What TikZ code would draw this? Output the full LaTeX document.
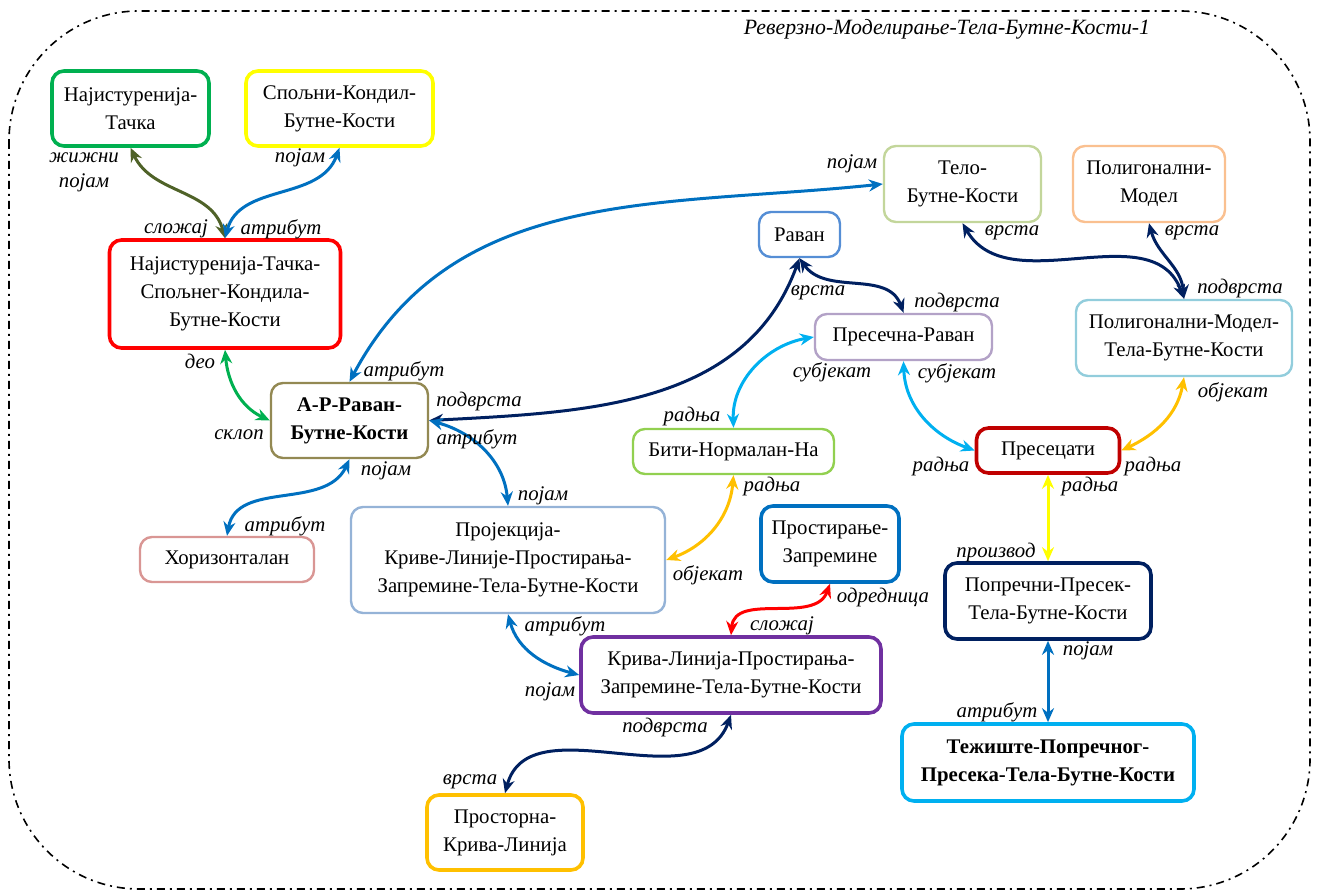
\documentclass[tikz,border=0pt]{standalone}
\usepackage{fontspec}
\setmainfont{Liberation Serif}
\usetikzlibrary{arrows.meta}
\definecolor{cgreen}{HTML}{00B050}
\definecolor{cyellow}{HTML}{FFFF00}
\definecolor{cred}{HTML}{FF0000}
\definecolor{cdarkred}{HTML}{C00000}
\definecolor{colive}{HTML}{938953}
\definecolor{cmoss}{HTML}{4F6228}
\definecolor{crose}{HTML}{D99694}
\definecolor{cpale}{HTML}{95B3D7}
\definecolor{cblue}{HTML}{0070C0}
\definecolor{cnavy}{HTML}{002060}
\definecolor{ccyan}{HTML}{00B0F0}
\definecolor{cpurple}{HTML}{7030A0}
\definecolor{corange}{HTML}{FFC000}
\definecolor{clime}{HTML}{92D050}
\definecolor{clilac}{HTML}{B3A2C7}
\definecolor{caqua}{HTML}{92CDDC}
\definecolor{csky}{HTML}{558ED5}
\definecolor{csage}{HTML}{C3D69B}
\definecolor{cpeach}{HTML}{FAC090}
\begin{document}
\begin{tikzpicture}[x=0.5pt,y=0.5pt,
  box/.style={draw, rounded corners=6pt, align=center, inner sep=0pt, line width=1.2pt,
    font=\fontsize{10.4}{14}\selectfont},
  heavy/.style={box, line width=1.8pt},
  rel/.style={<->, >={Stealth[length=7pt,width=6pt]}, line width=1.5pt},
  lbl/.style={font=\itshape\fontsize{10.4}{12.5}\selectfont, align=center, inner sep=0pt}]
\useasboundingbox (0,0) rectangle (1317,-892);
\draw[line width=0.8pt, dash pattern=on 4pt off 2.5pt on 1pt off 2.5pt, rounded corners=65pt]
  (9,-11) rectangle (1310,-889);
\node[lbl, font=\itshape\fontsize{10.9}{13}\selectfont] (naslov) at (947,-29) {Реверзно-Моделирање-Тела-Бутне-Кости-1};

\node[heavy, draw=cgreen, minimum width=78.5pt, minimum height=37.5pt] (tacka) at (130.5,-108.5) {Најистуренија-\\Тачка};
\node[heavy, draw=cyellow, minimum width=93.5pt, minimum height=37.5pt] (kondil) at (339.5,-108.5) {Спољни-Кондил-\\Бутне-Кости};
\node[heavy, draw=cred, minimum width=115.5pt, minimum height=54pt] (najtacka) at (225,-294) {Најистуренија-Тачка-\\Спољнег-Кондила-\\Бутне-Кости};
\node[box, draw=colive, minimum width=78.5pt, minimum height=37.5pt, font=\bfseries\fontsize{10.4}{14}\selectfont] (arravan) at (349.5,-420.5) {А-Р-Раван-\\Бутне-Кости};
\node[box, draw=crose, minimum width=87pt, minimum height=22.5pt] (horiz) at (227,-559.5) {Хоризонталан};
\node[box, draw=cpale, minimum width=157pt, minimum height=53pt] (projekcija) at (508,-560) {Пројекција-\\Криве-Линије-Простирања-\\Запремине-Тела-Бутне-Кости};
\node[heavy, draw=cblue, minimum width=69pt, minimum height=38pt] (prostiranje) at (830,-544) {Простирање-\\Запремине};
\node[heavy, draw=cpurple, minimum width=150pt, minimum height=38pt] (kriva) at (731,-675) {Крива-Линија-Простирања-\\Запремине-Тела-Бутне-Кости};
\node[heavy, draw=corange, minimum width=78pt, minimum height=37.5pt] (prostorna) at (505,-832.5) {Просторна-\\Крива-Линија};
\node[box, draw=csage, minimum width=78.5pt, minimum height=38pt] (telo) at (962.5,-184) {Тело-\\Бутне-Кости};
\node[box, draw=cpeach, minimum width=76pt, minimum height=38pt] (polmodel) at (1149,-184) {Полигонални-\\Модел};
\node[box, draw=csky, minimum width=40.5pt, minimum height=22.5pt] (ravan) at (799.5,-234.5) {Раван};
\node[box, draw=clilac, minimum width=88.5pt, minimum height=23pt] (presecna) at (903.5,-337) {Пресечна-Раван};
\node[box, draw=caqua, minimum width=108pt, minimum height=38pt] (polmodeltela) at (1184,-338) {Полигонални-Модел-\\Тела-Бутне-Кости};
\node[box, draw=clime, minimum width=100.5pt, minimum height=22.5pt] (biti) at (733.5,-451.5) {Бити-Нормалан-На};
\node[heavy, draw=cdarkred, minimum width=71.5pt, minimum height=22.5pt] (presecati) at (1048,-450.5) {Пресецати};
\node[heavy, draw=cnavy, minimum width=103pt, minimum height=38pt] (poprecni) at (1048,-601) {Попречни-Пресек-\\Тела-Бутне-Кости};
\node[heavy, draw=ccyan, minimum width=146pt, minimum height=38.5pt, font=\bfseries\fontsize{10.4}{14}\selectfont] (teziste) at (1048,-762.5) {Тежиште-Попречног-\\Пресека-Тела-Бутне-Кости};

% relations, each tip labelled at its own end
\draw[rel, cmoss] (najtacka.north) to[out=105,in=-65] (tacka.south);
\node[lbl] (l1a) at (84,-172) {жижни\\појам};
\node[lbl] (l1b) at (176,-229) {сложај};
\draw[rel, cblue] (najtacka.north) to[out=75,in=-110] (kondil.south);
\node[lbl] (l2a) at (300,-158) {појам};
\node[lbl] (l2b) at (281,-229) {атрибут};
\draw[rel, cgreen] (najtacka.south) to[out=-85,in=155] (arravan.west);
\node[lbl] (l3a) at (200,-361) {део};
\node[lbl] (l3b) at (239,-435) {склоп};
\draw[rel, cblue] (arravan.north) to[out=62,in=186] (telo.west);
\node[lbl] (l4a) at (404,-371) {атрибут};
\node[lbl] (l4b) at (852,-164) {појам};
\draw[rel, cnavy] (arravan.east) to[out=3,in=-110] (ravan.south);
\node[lbl] (l5a) at (479,-402) {подврста};
\node[lbl] (l5b) at (818,-293) {врста};
\draw[rel, cblue] (arravan.east) to[out=-15,in=95] (projekcija.north);
\node[lbl] (l6a) at (477,-439) {атрибут};
\node[lbl] (l6b) at (543,-496) {појам};
\draw[rel, cblue] (arravan.south) to[out=-115,in=80] (horiz.north);
\node[lbl] (l7a) at (386,-471) {појам};
\node[lbl] (l7b) at (285,-526) {атрибут};
\draw[rel, cnavy] (ravan.south) to[out=-55,in=110] (presecna.north);
\node[lbl] (l8) at (957,-303) {подврста};
\draw[rel, ccyan] (presecna.west) to[out=190,in=92] (biti.north);
\node[lbl] (l9a) at (832,-372) {субјекат};
\node[lbl] (l9b) at (692,-417) {радња};
\draw[rel, ccyan] (presecna.south) to[out=-88,in=160] (presecati.west);
\node[lbl] (l10a) at (957,-373) {субјекат};
\node[lbl] (l10b) at (941,-467) {радња};
\draw[rel, corange] (polmodeltela.south) to[out=-100,in=25] (presecati.east);
\node[lbl] (l11a) at (1233,-392) {објекат};
\node[lbl] (l11b) at (1153,-467) {радња};
\draw[rel, cyellow] (presecati.south) -- (poprecni.north);
\node[lbl] (l12a) at (1090,-487) {радња};
\node[lbl] (l12b) at (996,-552) {производ};
\draw[rel, cblue] (poprecni.south) -- (teziste.north);
\node[lbl] (l13a) at (1088,-651) {појам};
\node[lbl] (l13b) at (997,-712) {атрибут};
\draw[rel, corange] (biti.south) to[out=-95,in=20] (projekcija.east);
\node[lbl] (l14a) at (772,-486) {радња};
\node[lbl] (l14b) at (708,-575) {објекат};
\draw[rel, cred] (kriva.north) to[out=85,in=-110] (prostiranje.south);
\node[lbl] (l15a) at (883,-597) {одредница};
\node[lbl] (l15b) at (782,-626) {сложај};
\draw[rel, cblue] (projekcija.south) to[out=-75,in=165] (kriva.west);
\node[lbl] (l16a) at (565,-626) {атрибут};
\node[lbl] (l16b) at (550,-692) {појам};
\draw[rel, cnavy] (kriva.south) to[out=-110,in=75] (prostorna.north);
\node[lbl] (l17a) at (665,-727) {подврста};
\node[lbl] (l17b) at (470,-782) {врста};
\draw[rel, cnavy] (telo.south) to[out=-60,in=110] (polmodeltela.north);
\node[lbl] (l18a) at (1012,-233) {врста};
\node[lbl] (l18b) at (1240,-289) {подврста};
\draw[rel, cnavy] (polmodel.south) to[out=-75,in=95] (polmodeltela.north);
\node[lbl] (l19) at (1192,-233) {врста};
\end{tikzpicture}
\end{document}
